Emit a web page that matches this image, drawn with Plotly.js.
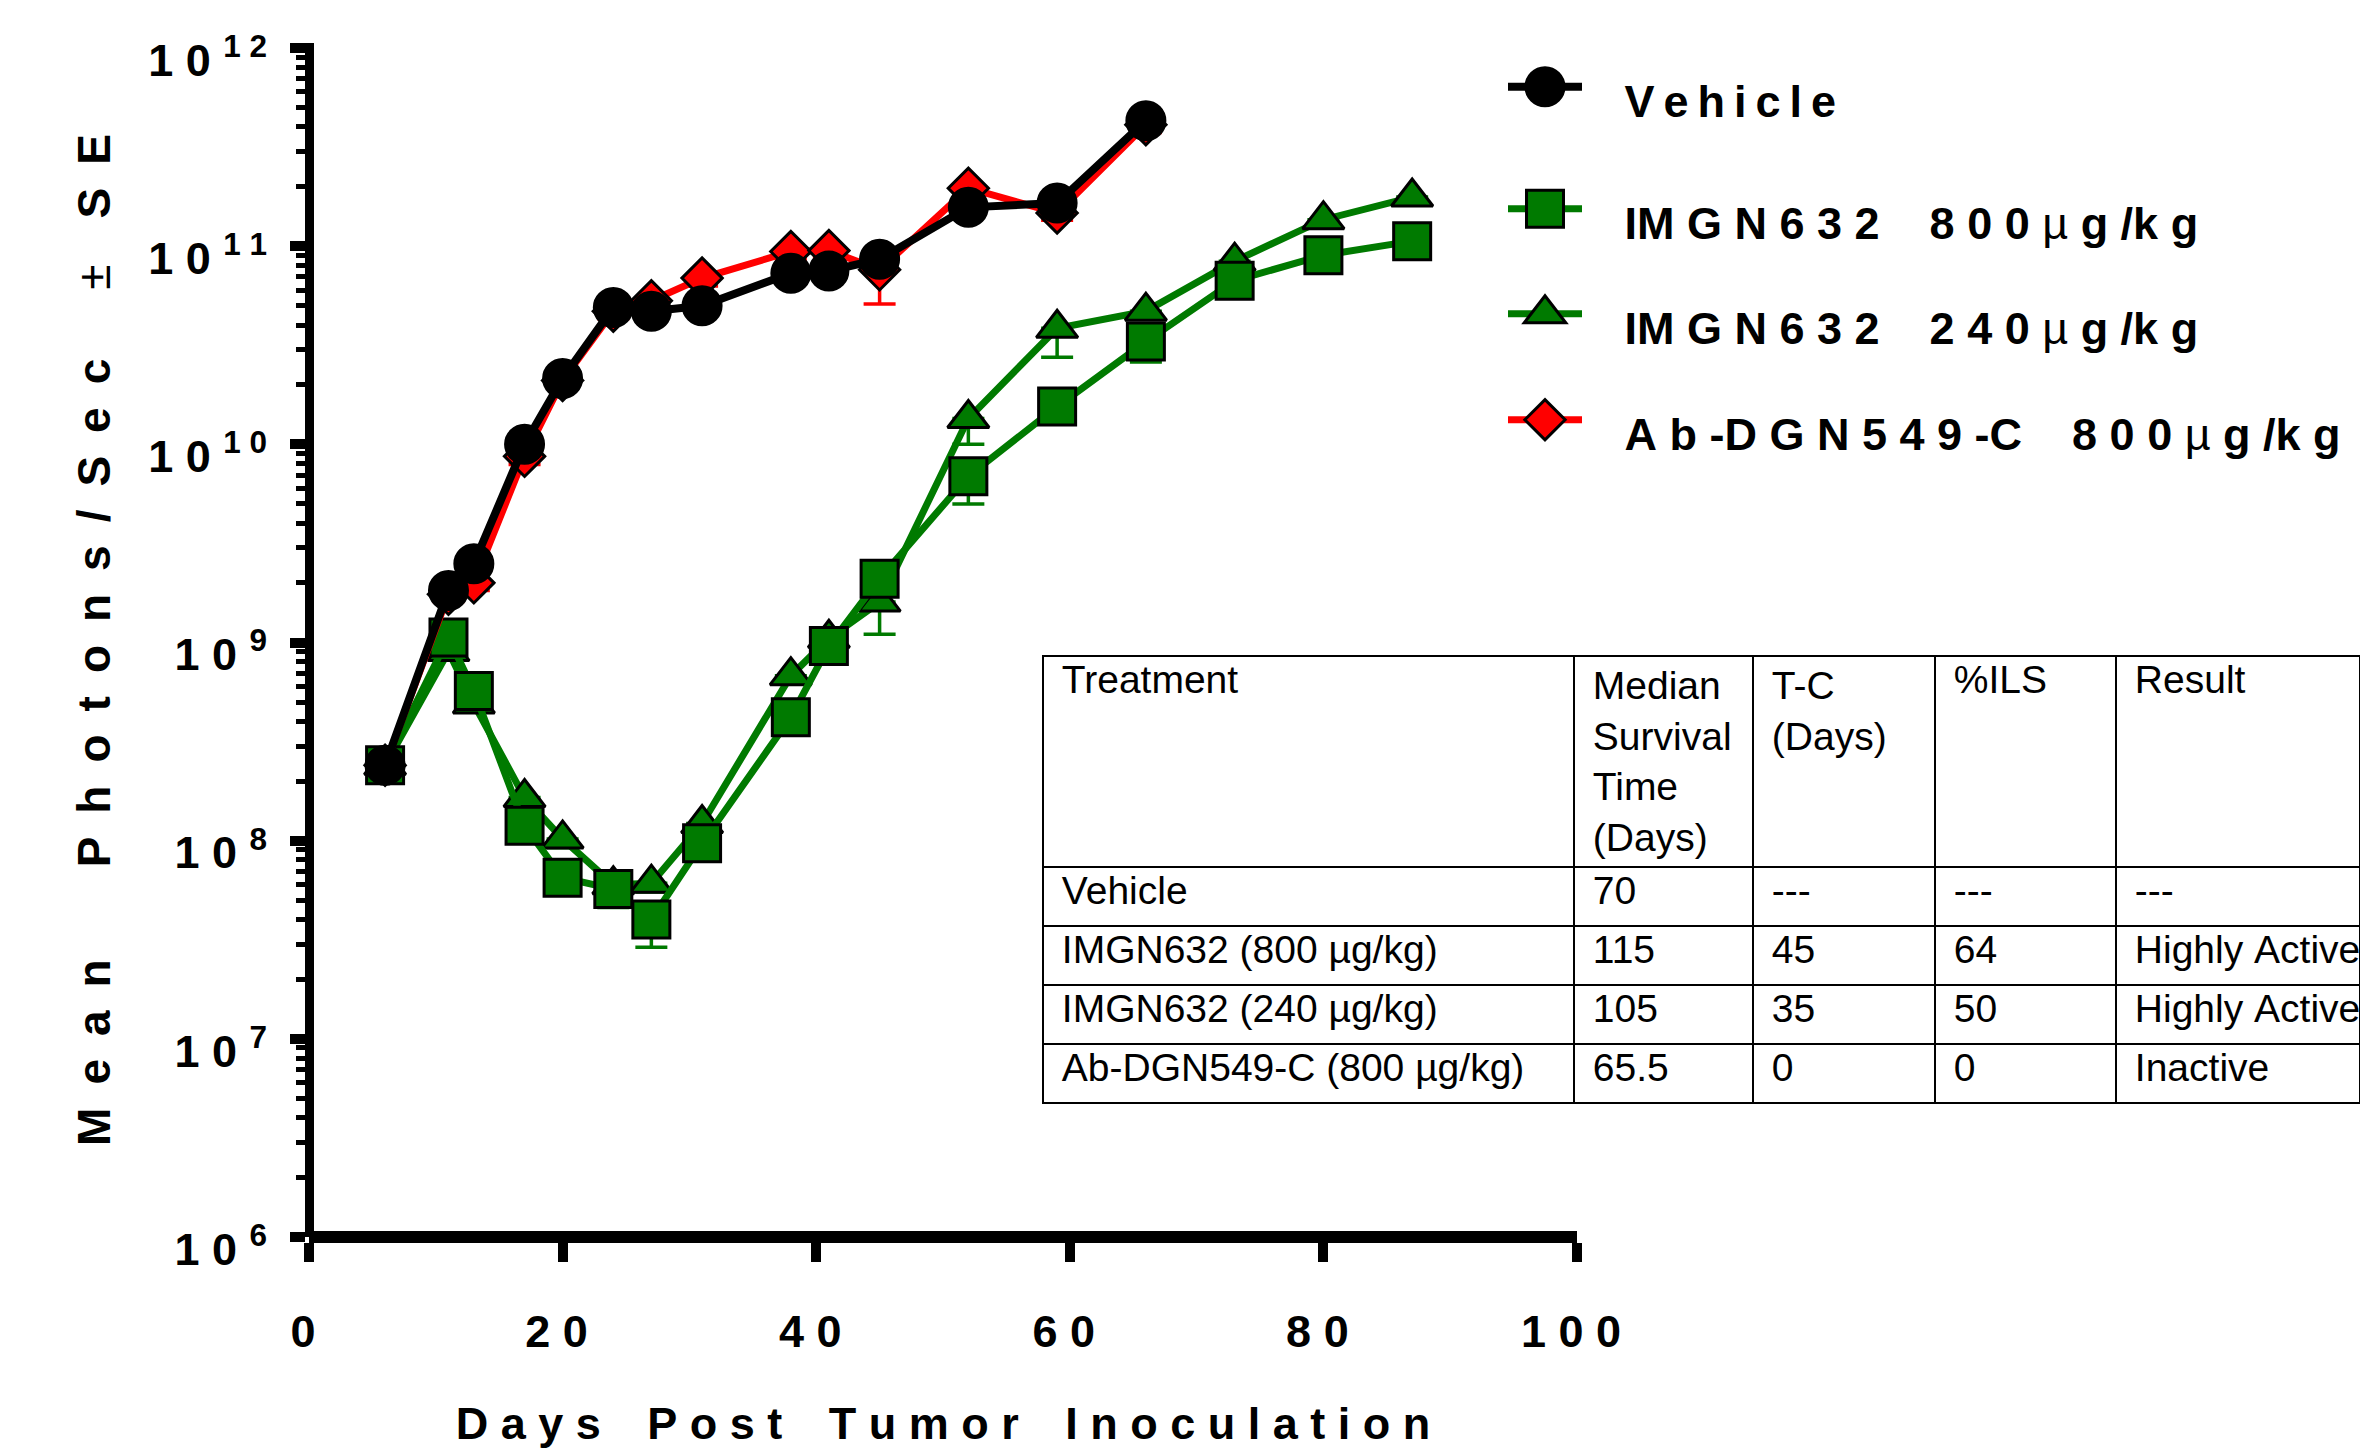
<!DOCTYPE html>
<html>
<head>
<meta charset="utf-8">
<script src="https://cdn.plot.ly/plotly-3.0.1.min.js"></script>
<style>
  html, body { margin: 0; padding: 0; background: #ffffff; }
  #chart { width: 2360px; height: 1449px; }
</style>
</head>
<body>
<div id="chart"></div>
<script>
// ---------------- data ----------------
const daysShort = [6, 11, 13, 17, 20, 24, 27, 31, 38, 41, 45, 52, 59, 66];
const daysLong  = [6, 11, 13, 17, 20, 24, 27, 31, 38, 41, 45, 52, 59, 66, 73, 80, 87];

const vehicleMean = [2.4e8, 1.83e9, 2.5e9, 1.0e10, 2.15e10, 4.9e10, 4.7e10, 5.0e10, 7.3e10, 7.5e10, 8.6e10, 1.57e11, 1.65e11, 4.3e11];
const vehicleSE   = [2e7, 1.5e8, 2e8, 8e8, 2e9, 4e9, 4e9, 4e9, 6e9, 6e9, 7e9, 1.3e10, 1.4e10, 3.5e10];

const abMean = [2.4e8, 1.75e9, 2.0e9, 8.7e9, 2.1e10, 4.7e10, 5.3e10, 6.9e10, 9.4e10, 9.5e10, 7.6e10, 1.96e11, 1.47e11, 4.1e11];
const abSE   = [2e7, 1.4e8, 1.7e8, 8e8, 1.8e9, 4e9, 4.5e9, 6e9, 8e9, 8e9, 2.5e10, 1.6e10, 1.2e10, 3.5e10];

const imgn800Mean = [2.4e8, 1.06e9, 5.7e8, 1.19e8, 6.5e7, 5.7e7, 4.0e7, 9.7e7, 4.2e8, 9.6e8, 2.1e9, 6.9e9, 1.55e10, 3.3e10, 6.7e10, 9.0e10, 1.06e11];
const imgn800SE   = [2e7, 1e8, 6e7, 1.5e7, 1.1e7, 1.1e7, 1.1e7, 1.2e7, 6e7, 1e8, 2.5e8, 1.9e9, 2.2e9, 7e9, 7e9, 9e9, 1e10];

const imgn240Mean = [2.4e8, 9.0e8, 4.9e8, 1.65e8, 1.02e8, 6.0e7, 6.1e7, 1.22e8, 6.8e8, 1.05e9, 1.6e9, 1.35e10, 3.85e10, 4.7e10, 8.4e10, 1.36e11, 1.77e11];
const imgn240SE   = [2e7, 8e7, 4e7, 1.5e7, 1e7, 6e6, 6e6, 1.2e7, 6e7, 1e8, 5e8, 3.5e9, 1.1e10, 4e9, 8e9, 1.2e10, 1.5e10];

const seriesNames = [
  'V e h i c l e',
  'IM G N 6 3 2    8 0 0 \u00b5 g /k g',
  'IM G N 6 3 2    2 4 0 \u00b5 g /k g',
  'A b -D G N 5 4 9 -C    8 0 0 \u00b5 g /k g'
];

const xTickVals   = [0, 20, 40, 60, 80, 100];
const xTickLabels = ['0', '2 0', '4 0', '6 0', '8 0', '1 0 0'];
const yTickVals   = [1e6, 1e7, 1e8, 1e9, 1e10, 1e11, 1e12];
const yTickLabels = ['1 0 <sup>6</sup>', '1 0 <sup>7</sup>', '1 0 <sup>8</sup>', '1 0 <sup>9</sup>',
                     '1 0 <sup>1 0</sup>', '1 0 <sup>1 1</sup>', '1 0 <sup>1 2</sup>'];

const xTitleWords = ['Days', 'Post', 'Tumor', 'Inoculation'];
const yTitleWords = ['Mean', 'Photons/Sec', '\u00b1', 'SE'];

const tableHeader    = ['Treatment', 'Median<br>Survival<br>Time<br>(Days)', 'T-C<br>(Days)', '%ILS', 'Result'];
const tableTreatment = ['Vehicle', 'IMGN632 (800 \u00b5g/kg)', 'IMGN632 (240 \u00b5g/kg)', 'Ab-DGN549-C (800 \u00b5g/kg)'];
const tableMedian    = ['70', '115', '105', '65.5'];
const tableTC        = ['---', '45', '35', '0'];
const tableILS       = ['---', '64', '50', '0'];
const tableResult    = ['---', 'Highly Active', 'Highly Active', 'Inactive'];

// ---------------- styling helpers ----------------
const BOLDF = "'Liberation Sans', Arial, Helvetica, sans-serif";
const REGULAR = "'Liberation Sans', Arial, Helvetica, sans-serif";
const GREEN = '#007a00';
const nb = s => s.replace(/ /g, '\u00a0');

const W = 2360, H = 1449;
const ML = 309, MT = 43, MB = 212;
const PW = W - ML, PH = H - MT - MB;
const px2x = px => (px - ML) / PW;
const py2y = py => (1237 - py) / PH;

// axis titles with wide letter spacing
const EN = '\u2002';
const spread = (w, gap) => w.split('').join(gap);
const yTitle = spread(yTitleWords[0], EN) + EN.repeat(4) +
  spread(yTitleWords[1], EN) + EN.repeat(3) +
  '<span style="font-weight:normal">' + yTitleWords[2] + '</span>' + EN.repeat(2) +
  spread(yTitleWords[3], EN);
const xTitle = xTitleWords.map(w => spread(w, '\u00a0')).join('\u00a0\u00a0\u00a0\u2009') + '\u00a0';

const muSpan = '<span style="font-weight:normal">\u00b5</span>';
const legendName = (s, gap) => '\u00a0\u00a0\u00a0' + s.replace(/ /g, gap).replace('\u00b5', muSpan);

const noUpper = 0;
function errBars(se, color) {
  return { type: 'data', symmetric: false, array: se.map(() => noUpper), arrayminus: se,
           color: color, thickness: 3.5, width: 16 };
}

const traces = [
  { type: 'scatter', mode: 'lines+markers', x: daysLong, y: imgn240Mean, name: legendName(seriesNames[2], '\u00a0'),
    legend: 'legend3', line: { color: GREEN, width: 7 },
    marker: { symbol: 'triangle-up', size: 36, color: GREEN, line: { color: '#000', width: 3 } },
    error_y: errBars(imgn240SE, GREEN), cliponaxis: false },
  { type: 'scatter', mode: 'lines+markers', x: daysLong, y: imgn800Mean, name: legendName(seriesNames[1], '\u00a0'),
    legend: 'legend2', line: { color: GREEN, width: 7 },
    marker: { symbol: 'square', size: 37, color: GREEN, line: { color: '#000', width: 3 } },
    error_y: errBars(imgn800SE, GREEN), cliponaxis: false },
  { type: 'scatter', mode: 'lines+markers', x: daysShort, y: abMean, name: legendName(seriesNames[3], '\u00a0'),
    legend: 'legend4', line: { color: '#ff0000', width: 7 },
    marker: { symbol: 'diamond', size: 31, color: '#ff0000', line: { color: '#000', width: 3 } },
    error_y: errBars(abSE, '#ff0000'), cliponaxis: false },
  { type: 'scatter', mode: 'lines+markers', x: daysShort, y: vehicleMean, name: legendName(seriesNames[0], '\u2009'),
    legend: 'legend', line: { color: '#000', width: 8 },
    marker: { symbol: 'circle', size: 38, color: '#000', line: { color: '#000', width: 3 } },
    error_y: errBars(vehicleSE, '#000'), cliponaxis: false },
  { type: 'table',
    domain: { x: [px2x(1043), 1], y: [py2y(1112), py2y(656)] },
    columnwidth: [531, 179, 182, 181, 244],
    header: { values: tableHeader.map(v => '\u00a0' + v.replace(/<br>/g, '<br>\u00a0')),
              align: 'left', height: 211,
              line: { color: '#000', width: 2 }, fill: { color: '#ffffff' },
              font: { family: REGULAR, size: 39, color: '#000' } },
    cells: { values: [tableTreatment, tableMedian, tableTC, tableILS, tableResult].map(col => col.map(v => '\u00a0' + nb(v))),
             align: 'left', height: 59,
             line: { color: '#000', width: 2 }, fill: { color: '#ffffff' },
             font: { family: REGULAR, size: 39, color: '#000' } } }
];

const legendFont = { family: BOLDF, size: 45, color: '#000', weight: 'bold' };
function legendAt(yc) {
  return { x: px2x(1503), xanchor: 'left', y: py2y(yc), yanchor: 'middle',
           bgcolor: 'rgba(0,0,0,0)', borderwidth: 0, itemwidth: 74, itemsizing: 'trace',
           font: legendFont };
}

const layout = {
  width: W, height: H,
  margin: { l: ML, r: 0, t: MT, b: MB, pad: 0, autoexpand: false },
  paper_bgcolor: '#ffffff', plot_bgcolor: '#ffffff',
  showlegend: true,
  xaxis: {
    domain: [0, px2x(1577)], range: [0, 100], anchor: 'free', position: 0,
    showgrid: false, zeroline: false, showline: true, linecolor: '#000', linewidth: 12,
    ticks: 'outside', ticklen: 19, tickwidth: 10, tickcolor: '#000',
    tickmode: 'array', tickvals: xTickVals, ticktext: xTickLabels.map(nb),
    tickfont: { family: BOLDF, size: 45, color: '#000', weight: 'bold' },
    ticklabelstandoff: 31, ticklabelshift: -6,
    title: { text: xTitle, font: { family: BOLDF, size: 45, color: '#000', weight: 'bold' }, standoff: 64 }
  },
  yaxis: {
    type: 'log', range: [6, 12 + 5 / 198.17], anchor: 'free', position: 0,
    showgrid: false, zeroline: false, showline: true, linecolor: '#000', linewidth: 9,
    ticks: 'outside', ticklen: 15, tickwidth: 10, tickcolor: '#000',
    tickmode: 'array', tickvals: yTickVals, ticktext: yTickLabels.map(nb),
    tickfont: { family: BOLDF, size: 45, color: '#000', weight: 'bold' },
    ticklabelstandoff: 14, ticklabelshift: 12,
    minor: { ticks: 'outside', dtick: 'D1', ticklen: 9, tickwidth: 5, tickcolor: '#000', showgrid: false },
    title: { text: yTitle, font: { family: BOLDF, size: 46, color: '#000', weight: 'bold' }, standoff: 22 }
  },
  legend: legendAt(100),
  legend2: legendAt(222),
  legend3: legendAt(327),
  legend4: legendAt(433)
};

Plotly.newPlot('chart', traces, layout, { staticPlot: true, displayModeBar: false }).then(() => {
  document.querySelectorAll('.infolayer g.traces').forEach(g => {
    const d = g.__data__;
    const tr = d && d[0] && d[0].trace;
    if (!tr || !tr.marker) return;
    const k = tr.marker.size / 16;
    g.querySelectorAll('.legendpoints path.scatterpts').forEach(p => {
      const t = p.getAttribute('transform') || '';
      p.setAttribute('transform', 'translate(0,-13) ' + t + ' scale(' + k + ')');
      p.style.strokeWidth = (3 / k) + 'px';
    });
    g.querySelectorAll('.legendlines path').forEach(p => {
      p.setAttribute('transform', 'translate(0,-13)');
    });
  });
});
</script>
</body>
</html>
